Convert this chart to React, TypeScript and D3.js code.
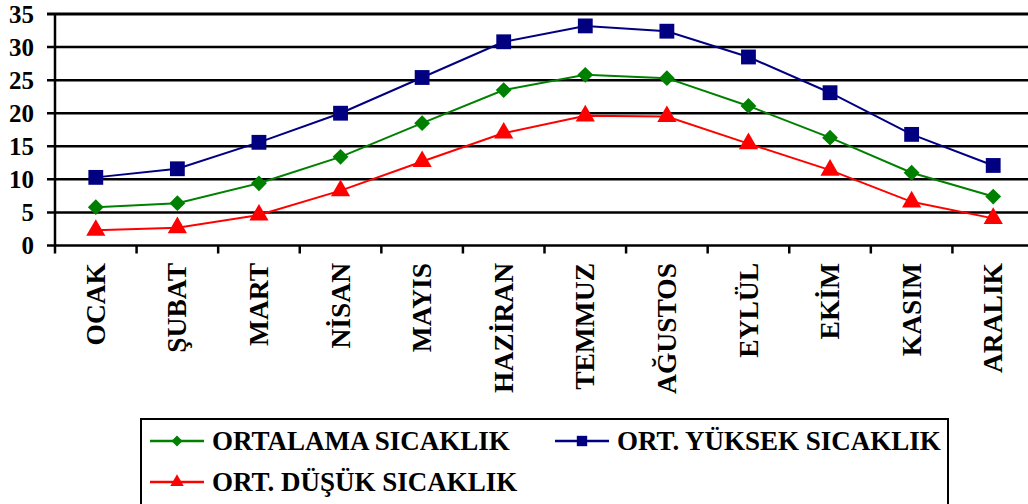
import React from "react";
import * as d3 from "d3";

const months = ["OCAK", "ŞUBAT", "MART", "NİSAN", "MAYIS", "HAZİRAN", "TEMMUZ", "AĞUSTOS", "EYLÜL", "EKİM", "KASIM", "ARALIK"];
const ortalama = [5.8, 6.4, 9.4, 13.4, 18.5, 23.5, 25.8, 25.3, 21.1, 16.3, 11.0, 7.4];
const yuksek = [10.3, 11.6, 15.6, 20.0, 25.4, 30.8, 33.2, 32.4, 28.5, 23.1, 16.8, 12.1];
const dusuk = [2.3, 2.7, 4.6, 8.3, 12.7, 17.0, 19.6, 19.5, 15.4, 11.4, 6.6, 4.1];
const yTicks = [0, 5, 10, 15, 20, 25, 30, 35];

const W = 1028;
const H = 504;
const font = "'Liberation Serif', 'Times New Roman', serif";

export default function App() {
  const x = d3.scaleBand<string>().domain(months).range([55, 1034]);
  const y = d3.scaleLinear().domain([0, 35]).range([245.5, 14]);
  const cx = (m: string) => (x(m) ?? 0) + x.bandwidth() / 2;

  const line = (vals: number[]) =>
    d3.line<number>().x((_, i) => cx(months[i])).y((v) => y(v))(vals) ?? "";

  const diamond = d3.symbol().type(d3.symbolDiamond2).size(160)() ?? "";
  const square = d3.symbol().type(d3.symbolSquare).size(220)() ?? "";
  const triangle = d3.symbol().type(d3.symbolTriangle).size(160)() ?? "";

  const series = [
    { vals: ortalama, color: "#008000", shape: diamond },
    { vals: yuksek, color: "#000080", shape: square },
    { vals: dusuk, color: "#FF0000", shape: triangle },
  ];

  const legend = [
    { label: "ORTALAMA SICAKLIK", color: "#008000", shape: diamond, lx: 150, ly: 441 },
    { label: "ORT. YÜKSEK SICAKLIK", color: "#000080", shape: square, lx: 555, ly: 441 },
    { label: "ORT. DÜŞÜK SICAKLIK", color: "#FF0000", shape: triangle, lx: 150, ly: 482 },
  ];

  return (
    <svg width={W} height={H} style={{ display: "block", position: "absolute", left: 0, top: 0, background: "#fff" }}>
      {/* gridlines */}
      {yTicks.map((t) => (
        <g key={t}>
          <line x1={47} x2={W} y1={y(t)} y2={y(t)} stroke="#000" strokeWidth={t === 35 ? 3 : 2.5} />
          <text
            x={34}
            y={y(t)}
            dy="0.34em"
            textAnchor="end"
            fontFamily={font}
            fontWeight="bold"
            fontSize={25}
          >
            {t}
          </text>
        </g>
      ))}
      <line x1={55} x2={55} y1={y(35)} y2={y(0) + 8} stroke="#000" strokeWidth={2.5} />
      {months.map((m, i) => (
        <line key={"t" + i} x1={x(m)! + x.bandwidth()} x2={x(m)! + x.bandwidth()} y1={y(0)} y2={y(0) + 8} stroke="#000" strokeWidth={2.5} />
      ))}
      {months.map((m) => (
        <text
          key={m}
          transform={`translate(${cx(m)},263) rotate(-90)`}
          dy="0.33em"
          textAnchor="end"
          fontFamily={font}
          fontWeight="bold"
          fontSize={27.5}
        >
          {m}
        </text>
      ))}
      {series.map((s, si) => (
        <g key={si}>
          <path d={line(s.vals)} fill="none" stroke={s.color} strokeWidth={2} />
          {s.vals.map((v, i) => (
            <path key={i} d={s.shape} transform={`translate(${cx(months[i])},${y(v)})`} fill={s.color} />
          ))}
        </g>
      ))}
      {/* legend */}
      <rect x={141} y={419} width={807} height={100} fill="none" stroke="#000" strokeWidth={2} />
      {legend.map((l) => (
        <g key={l.label}>
          <line x1={l.lx} x2={l.lx + 54} y1={l.ly} y2={l.ly} stroke={l.color} strokeWidth={2.5} />
          <path d={l.shape} transform={`translate(${l.lx + 27},${l.ly}) scale(0.7)`} fill={l.color} />
          <text x={l.lx + 62} y={l.ly} dy="0.34em" fontFamily={font} fontWeight="bold" fontSize={27}>
            {l.label}
          </text>
        </g>
      ))}
    </svg>
  );
}
